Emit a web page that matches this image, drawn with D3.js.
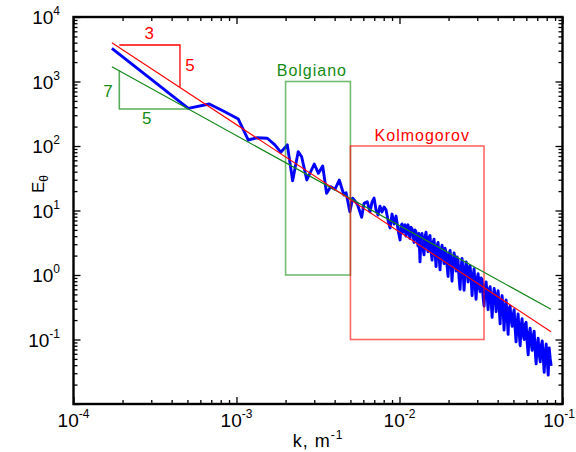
<!DOCTYPE html>
<html><head><meta charset="utf-8">
<script src="https://cdn.jsdelivr.net/npm/d3@7"></script>
<style>body{margin:0;background:#fff}svg{display:block}</style>
</head><body>
<script>
// ---- data ----
const kData = [1.72e-4,5.06e-4,6.81e-4,8.30e-4,1.026e-3,1.18e-3,1.33e-3,1.545e-3,1.72e-3,1.87e-3,2.05e-3,2.21e-3,2.39e-3,2.51e-3,2.70e-3,3.00e-3,3.18e-3,3.38e-3,3.57e-3,3.78e-3,4.02e-3,4.27e-3,4.56e-3,4.70e-3,4.96e-3,5.16e-3,5.51e-3,5.86e-3,6.06e-3,6.34e-3,
6.59e-3,6.78e-3,6.98e-3,7.18e-3,7.38e-3,7.59e-3,7.81e-3,8.04e-3,8.27e-3,8.50e-3,8.75e-3,9.00e-3,9.26e-3,9.52e-3,9.80e-3,
1.008e-2,1.022e-2,1.036e-2,1.051e-2,1.066e-2,1.081e-2,1.096e-2,1.112e-2,1.128e-2,1.144e-2,
1.160e-2,1.176e-2,1.193e-2,1.210e-2,1.228e-2,1.245e-2,1.263e-2,1.281e-2,1.299e-2,1.317e-2,
1.336e-2,1.355e-2,1.375e-2,1.394e-2,1.414e-2,1.434e-2,1.455e-2,1.475e-2,1.496e-2,1.517e-2,
1.539e-2,1.561e-2,1.584e-2,1.606e-2,1.629e-2,1.652e-2,1.676e-2,1.700e-2,1.724e-2,1.748e-2,
1.773e-2,1.798e-2,1.824e-2,1.850e-2,1.877e-2,1.903e-2,1.930e-2,1.958e-2,1.986e-2,2.014e-2,
2.043e-2,2.071e-2,2.100e-2,2.130e-2,2.161e-2,2.192e-2,2.223e-2,2.255e-2,2.287e-2,2.319e-2,
2.352e-2,2.386e-2,2.420e-2,2.454e-2,2.489e-2,2.525e-2,2.561e-2,2.597e-2,2.634e-2,2.672e-2,
2.710e-2,2.749e-2,2.788e-2,2.828e-2,2.868e-2,2.909e-2,2.950e-2,2.992e-2,3.035e-2,3.078e-2,
3.122e-2,3.167e-2,3.212e-2,3.258e-2,3.304e-2,3.351e-2,3.399e-2,3.447e-2,3.496e-2,3.546e-2,
3.597e-2,3.648e-2,3.700e-2,3.753e-2,3.806e-2,3.860e-2,3.915e-2,3.971e-2,4.028e-2,4.085e-2,
4.143e-2,4.20e-2,4.26e-2,4.32e-2,4.38e-2,4.44e-2,4.51e-2,4.57e-2,4.64e-2,4.70e-2,
4.77e-2,4.84e-2,4.91e-2,4.98e-2,5.05e-2,5.12e-2,5.19e-2,5.26e-2,5.34e-2,5.42e-2,
5.50e-2,5.57e-2,5.65e-2,5.73e-2,5.82e-2,5.90e-2,5.98e-2,6.07e-2,6.16e-2,6.24e-2,
6.33e-2,6.42e-2,6.51e-2,6.60e-2,6.70e-2,6.79e-2,6.89e-2,6.99e-2,7.09e-2,7.19e-2,
7.30e-2,7.40e-2,7.51e-2,7.61e-2,7.72e-2,7.83e-2,7.94e-2,8.05e-2,8.17e-2,8.29e-2,8.41e-2,8.52e-2];
const eData = [3270,384,448,349,262,124,134,132,104,80,104,29.0,81.6,68.2,29.7,52.6,37.7,49.0,18.5,23.4,21.3,29.7,17.4,18.9,9.58,15.5,12.6,7.85,12.9,13.7,
9.48,13.5,15.6,10.2,8.5,11.7,9.5,11.3,10.2,7.1,5.36,8.8,6.18,8.2,5.0,
3.5,5.8,6.2,4.6,5.7,6.0,4.0,5.2,6.0,4.4,
3.7,5.5,5.2,4.3,3.2,5.0,4.7,3.6,2.8,4.4,
1.6,3.6,4.4,2.6,2.05,3.9,4.6,3.0,2.3,3.8,
4.1,2.4,1.7,3.2,3.6,2.2,1.35,2.8,3.2,2.0,
1.2,2.4,2.9,1.9,1.5,2.6,2.2,1.4,0.95,2.1,
2.4,1.6,0.8,1.5,2.2,1.8,1.15,1.9,1.7,0.9,
0.6,1.3,1.8,1.2,0.58,1.1,1.6,1.35,0.78,1.25,
1.4,0.9,0.48,0.95,1.25,0.7,0.42,0.85,1.05,0.65,
0.55,0.9,0.85,0.45,0.33,0.65,0.78,0.5,0.29,0.6,
0.66,0.4,0.22,0.45,0.62,0.5,0.27,0.4,0.57,0.33,
0.175,0.38,0.48,0.3,0.14,0.28,0.41,0.24,0.12,0.3,
0.33,0.2,0.16,0.24,0.29,0.15,0.092,0.17,0.25,0.13,
0.08,0.16,0.21,0.12,0.1,0.17,0.185,0.09,0.058,0.12,
0.15,0.09,0.068,0.11,0.135,0.07,0.042,0.08,0.105,0.06,
0.045,0.08,0.095,0.055,0.031,0.06,0.085,0.05,0.028,0.074,0.05,0.039];

const kolFitK = [1.72e-4, 0.085];
const kolFitE = [4000, 0.132];
const bolFitK = [1.72e-4, 0.085];
const bolFitE = [1694, 0.294];

const kolTriK = [1.91e-4, 4.50e-4, 4.50e-4];
const kolTriE = [3680, 3680, 822];
const bolTriK = [1.91e-4, 1.91e-4, 5.0e-4];
const bolTriE = [1507, 375, 375];

const kolTriLabels = ["3", "5"];
const kolTriLabelK = [2.92e-4, 5.19e-4];
const kolTriLabelE = [4560, 1455];
const bolTriLabels = ["7", "5"];
const bolTriLabelK = [1.63e-4, 2.81e-4];
const bolTriLabelE = [581, 217];

const bolBoxK = [2e-3, 5e-3];
const bolBoxE = [1, 1000];
const kolBoxK = [5e-3, 0.033];
const kolBoxE = [0.1, 100];
const boxNames = ["Bolgiano", "Kolmogorov"];
const boxLabelK = [2.9e-3, 0.0138];
const boxLabelE = [1230, 120];

const xTickExps = [-4, -3, -2, -1];
const yTickExps = [-1, 0, 1, 2, 3, 4];
const xTitle = "k, m";
const xTitleSup = "-1";
const yTitle = "E";
const yTitleSub = "θ";

// ---- layout ----
const W = 576, H = 452, L = 73.5, R = 562.5, T = 17, B = 404;
const FONT = "'Liberation Sans', Arial, sans-serif";
const x = d3.scaleLog().domain([1e-4, 1e-1]).range([L, R]);
const y = d3.scaleLog().domain([1e-2, 1e4]).range([B, T]);

const svg = d3.select("body").append("svg").attr("width", W).attr("height", H)
  .style("font-family", FONT);

// blue spectrum
const pts = kData.map((k, i) => [k, eData[i]]);
const line = d3.line().x(d => x(d[0])).y(d => y(d[1]));
svg.append("path").datum(pts).attr("d", line)
  .attr("fill", "none").attr("stroke", "#0000ff").attr("stroke-width", 2.9)
  .attr("stroke-linejoin", "round");

// boxes
function box(kk, ee, color) {
  svg.append("rect")
    .attr("x", x(kk[0])).attr("y", y(ee[1]))
    .attr("width", x(kk[1]) - x(kk[0])).attr("height", y(ee[0]) - y(ee[1]))
    .attr("fill", "none").attr("stroke", color).attr("stroke-width", 1.6)
    .attr("stroke-opacity", 0.6);
}
box(bolBoxK, bolBoxE, "#168c16");
box(kolBoxK, kolBoxE, "#ff0000");

// fit lines
function pl(kk, ee, color, w, op) {
  svg.append("path").datum(kk.map((k, i) => [k, ee[i]])).attr("d", line)
    .attr("fill", "none").attr("stroke", color).attr("stroke-width", w)
    .attr("stroke-opacity", op || 1);
}
pl(bolFitK, bolFitE, "#13861a", 1.2);
pl(kolFitK, kolFitE, "#ff0000", 1.1);
pl(kolTriK, kolTriE, "#ff0000", 1.3);
pl(bolTriK, bolTriE, "#2e9a2e", 1.6, 0.8);

// labels on plot
function lab(txt, kk, ee, color, size, ls) {
  svg.selectAll(null).data(txt).enter().append("text")
    .attr("x", (d, i) => x(kk[i])).attr("y", (d, i) => y(ee[i]))
    .attr("text-anchor", "middle").attr("fill", color)
    .attr("font-size", size).attr("letter-spacing", ls || 0).text(d => d);
}
lab(kolTriLabels, kolTriLabelK, kolTriLabelE, "#ff0000", 17);
lab(bolTriLabels, bolTriLabelK, bolTriLabelE, "#138a13", 17);
lab([boxNames[0]], [boxLabelK[0]], [boxLabelE[0]], "#138a13", 16, 1);
lab([boxNames[1]], [boxLabelK[1]], [boxLabelE[1]], "#ff0000", 16, 1);

// ticks
function minorVals(lo, hi) {
  const v = [];
  for (let e = lo; e < hi; e++) for (let m = 2; m <= 9; m++) v.push(m * Math.pow(10, e));
  return v;
}
const xMinor = minorVals(-4, -1), yMinor = minorVals(-2, 4);
const xMajor = d3.range(-4, 0).map(e => Math.pow(10, e));
const yMajor = d3.range(-2, 5).map(e => Math.pow(10, e));
function ax(gen, vals, size, tx, ty) {
  const g = svg.append("g").attr("transform", `translate(${tx},${ty})`)
    .call(gen.tickValues(vals).tickSize(size).tickFormat(""));
  g.select(".domain").remove();
  g.selectAll("line").attr("stroke", "#000").attr("stroke-width", 1.3);
}
ax(d3.axisTop(x), xMinor, 4, 0, B);
ax(d3.axisTop(x), xMajor, 7, 0, B);
ax(d3.axisBottom(x), xMinor, 4, 0, T);
ax(d3.axisBottom(x), xMajor, 7, 0, T);
ax(d3.axisRight(y), yMinor, 4, L, 0);
ax(d3.axisRight(y), yMajor, 7, L, 0);
ax(d3.axisLeft(y), yMinor, 4, R, 0);
ax(d3.axisLeft(y), yMajor, 7, R, 0);

svg.append("rect").attr("x", L).attr("y", T).attr("width", R - L).attr("height", B - T)
  .attr("fill", "none").attr("stroke", "#000").attr("stroke-width", 2.4);

// tick labels
const yl = svg.selectAll(null).data(yTickExps).enter().append("text")
  .attr("x", 60).attr("y", e => y(Math.pow(10, e)) + 7)
  .attr("text-anchor", "end").attr("font-size", 19).attr("fill", "#000");
yl.append("tspan").text("10");
yl.append("tspan").attr("dy", -9).attr("font-size", 12).text(e => e);

const xl = svg.selectAll(null).data(xTickExps).enter().append("text")
  .attr("x", e => e === -1 ? W - 1 : x(Math.pow(10, e))).attr("y", 427)
  .attr("text-anchor", e => e === -1 ? "end" : "middle")
  .attr("font-size", 19).attr("fill", "#000");
xl.append("tspan").text("10");
xl.append("tspan").attr("dy", -9).attr("font-size", 12).text(e => e);

// axis titles
const xt = svg.append("text").attr("x", 318).attr("y", 447)
  .attr("text-anchor", "middle").attr("font-size", 18).attr("letter-spacing", 1).attr("fill", "#000");
xt.append("tspan").text(xTitle);
xt.append("tspan").attr("dy", -8).attr("font-size", 12).text(xTitleSup);

const yt = svg.append("text").attr("transform", "translate(44,184) rotate(-90)")
  .attr("text-anchor", "middle").attr("font-size", 17).attr("fill", "#000");
yt.append("tspan").text(yTitle);
yt.append("tspan").attr("dy", 4).attr("font-size", 12).text(yTitleSub);
</script>
</body></html>
